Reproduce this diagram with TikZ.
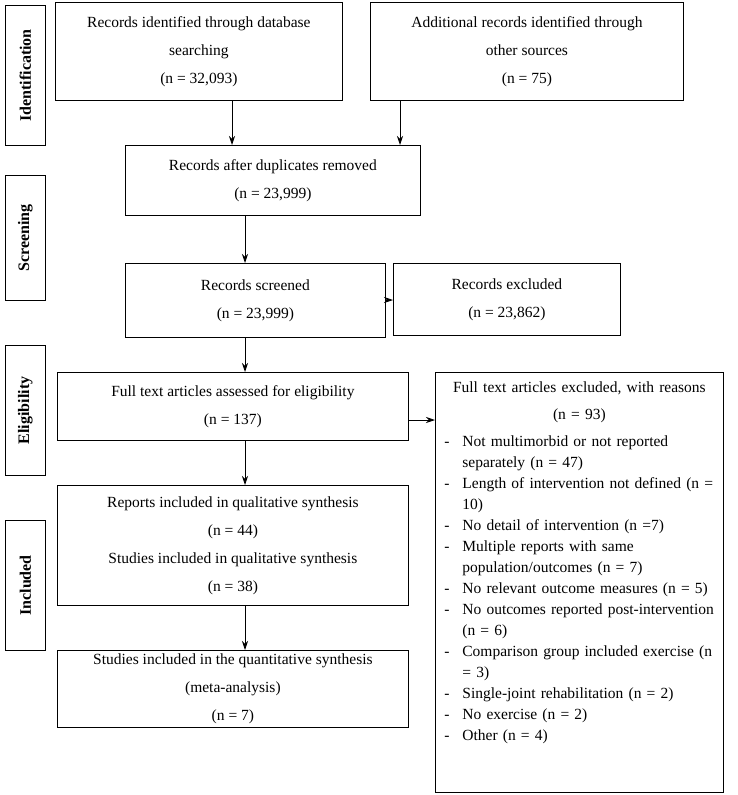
\documentclass[tikz,border=0pt]{standalone}
\usepackage{fontspec}
\setmainfont{Liberation Serif}
\usetikzlibrary{positioning,arrows.meta}
\newcommand{\reason}[1]{\par\hangindent=18pt\hangafter=1\noindent\makebox[18pt][l]{-}#1}
\tikzset{
  box/.style={draw, thick, anchor=north west, align=center, font=\fontsize{15.5}{28}\selectfont},
  phase/.style={draw, thick, anchor=north west, minimum width=40pt},
  phasetxt/.style={rotate=90, font=\bfseries\fontsize{16}{18}\selectfont},
  arr/.style={-{Stealth[length=9pt,width=6pt]}, thick}
}
\begin{document}
\begin{tikzpicture}[x=1pt, y=-1pt]
\useasboundingbox (0,0) rectangle (738,795);
% phase labels
\node[phase, minimum height=140pt] (pI) at (5,5) {};
\node[phasetxt] at (pI.center) {Identification};
\node[phase, minimum height=125pt] (pS) at (5,175) {};
\node[phasetxt] at (pS.center) {Screening};
\node[phase, minimum height=130pt] (pE) at (5,345) {};
\node[phasetxt] at (pE.center) {Eligibility};
\node[phase, minimum height=130pt] (pN) at (5,520) {};
\node[phasetxt] at (pN.center) {Included};

% boxes
\node[box, minimum width=287pt, minimum height=98pt] (db) at (55,2) {Records identified through database\\searching\\(n = 32,093)};
\node[box, minimum width=313pt, minimum height=98pt] (other) at (370,2) {Additional records identified through\\other sources\\(n = 75)};
\node[box, minimum width=295pt, minimum height=70pt] (dup) at (125,145) {Records after duplicates removed\\(n = 23,999)};
\node[box, minimum width=260pt, minimum height=74pt] (scr) at (125,263) {Records screened\\(n = 23,999)};
\node[box, minimum width=227pt, minimum height=72pt] (exc) at (393,263) {Records excluded\\(n = 23,862)};
\node[box, minimum width=351pt, minimum height=68pt] (full) at (57,372) {Full text articles assessed for eligibility\\(n = 137)};
\node[box, minimum width=288pt, minimum height=420pt] (why) at (435,372) {};
\node[anchor=north, align=left, text width=270pt, inner sep=0pt,
  font=\fontsize{15.5}{21}\selectfont] (whytxt) at ([yshift=-10pt]why.north) {%
  \centering Full text articles excluded, with reasons\\[6pt](n = 93)\par\raggedright\vspace{6pt}
  \reason{Not multimorbid or not reported separately (n = 47)}
  \reason{Length of intervention not defined (n = 10)}
  \reason{No detail of intervention (n =7)}
  \reason{Multiple reports with same population/outcomes (n = 7)}
  \reason{No relevant outcome measures (n = 5)}
  \reason{No outcomes reported post-intervention (n = 6)}
  \reason{Comparison group included exercise (n = 3)}
  \reason{Single-joint rehabilitation (n = 2)}
  \reason{No exercise (n = 2)}
  \reason{Other (n = 4)}};
\node[box, minimum width=351pt, minimum height=120pt] (qual) at (57,485) {Reports included in qualitative synthesis\\(n = 44)\\Studies included in qualitative synthesis\\(n = 38)};
\node[box, minimum width=351pt, minimum height=75pt] (quant) at (57,650) {Studies included in the quantitative synthesis\\(meta-analysis)\\(n = 7)};

% arrows
\draw[arr] (db.south -| 232,0) -- (dup.north -| 232,0);
\draw[arr] (other.south -| 400,0) -- (dup.north -| 400,0);
\draw[arr] (dup.south -| 245,0) -- (scr.north -| 245,0);
\draw[arr] (scr.east |- 0,300) -- (exc.west |- 0,300);
\draw[arr] (scr.south -| 245,0) -- (full.north -| 245,0);
\draw[arr] (full.east |- 0,420) -- (why.west |- 0,420);
\draw[arr] (full.south -| 245,0) -- (qual.north -| 245,0);
\draw[arr] (qual.south -| 245,0) -- (quant.north -| 245,0);
\end{tikzpicture}
\end{document}
